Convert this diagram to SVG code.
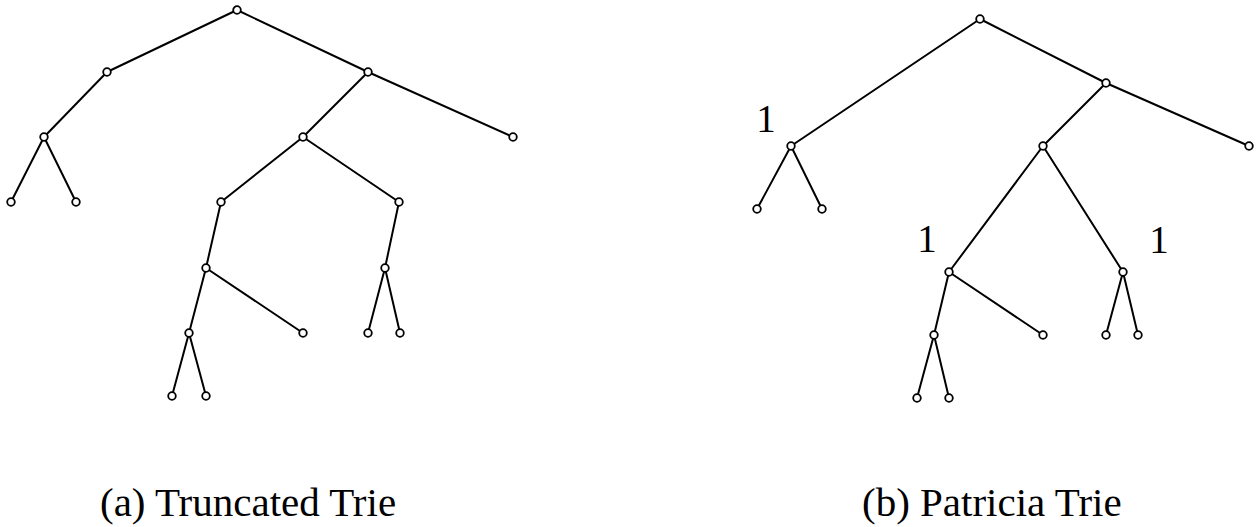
<svg xmlns="http://www.w3.org/2000/svg" width="1256" height="527" viewBox="0 0 1256 527">
<style>
.e{stroke:#000;stroke-width:2;fill:none;stroke-linecap:round}
.n{fill:#fff;stroke:#000;stroke-width:1.8}
.lbl{font-family:"Liberation Serif","Times New Roman","DejaVu Serif",serif;font-size:39px;fill:#000;text-anchor:middle}
.cap{font-family:"Liberation Serif","Times New Roman","DejaVu Serif",serif;font-size:41px;fill:#000}
</style>
<rect width="1256" height="527" fill="#fff"/>
<g id="connectors">
<path class="e" d="M237,10L107,72M237,10L368,72M107,72L44,137M44,137L11,202M44,137L76,202M368,72L303,137M368,72L513,137M303,137L221,202M303,137L399,202M221,202L206,268M206,268L189,333M206,268L303,333M189,333L172,396M189,333L206,396M399,202L385,268M385,268L368,333M385,268L400,333"/>
<path class="e" d="M980,19L791,146M980,19L1106,83M791,146L757,209M791,146L822,209M1106,83L1043,146M1106,83L1249,146M1043,146L949,272M1043,146L1123,272M949,272L934,335M949,272L1043,335M934,335L917,398M934,335L949,398M1123,272L1106,335M1123,272L1138,335"/>
</g>
<g id="a0"><circle class="n" cx="237" cy="10" r="3.8"/></g>
<g id="a1"><circle class="n" cx="107" cy="72" r="3.8"/></g>
<g id="a2"><circle class="n" cx="368" cy="72" r="3.8"/></g>
<g id="a3"><circle class="n" cx="44" cy="137" r="3.8"/></g>
<g id="a4"><circle class="n" cx="303" cy="137" r="3.8"/></g>
<g id="a5"><circle class="n" cx="513" cy="137" r="3.8"/></g>
<g id="a6"><circle class="n" cx="11" cy="202" r="3.8"/></g>
<g id="a7"><circle class="n" cx="76" cy="202" r="3.8"/></g>
<g id="a8"><circle class="n" cx="221" cy="202" r="3.8"/></g>
<g id="a9"><circle class="n" cx="399" cy="202" r="3.8"/></g>
<g id="a10"><circle class="n" cx="206" cy="268" r="3.8"/></g>
<g id="a11"><circle class="n" cx="385" cy="268" r="3.8"/></g>
<g id="a12"><circle class="n" cx="189" cy="333" r="3.8"/></g>
<g id="a13"><circle class="n" cx="303" cy="333" r="3.8"/></g>
<g id="a14"><circle class="n" cx="368" cy="333" r="3.8"/></g>
<g id="a15"><circle class="n" cx="400" cy="333" r="3.8"/></g>
<g id="a16"><circle class="n" cx="172" cy="396" r="3.8"/></g>
<g id="a17"><circle class="n" cx="206" cy="396" r="3.8"/></g>
<g id="b0"><circle class="n" cx="980" cy="19" r="3.8"/></g>
<g id="b1"><circle class="n" cx="791" cy="146" r="3.8"/><text class="lbl" x="766" y="132">1</text></g>
<g id="b2"><circle class="n" cx="1106" cy="83" r="3.8"/></g>
<g id="b3"><circle class="n" cx="757" cy="209" r="3.8"/></g>
<g id="b4"><circle class="n" cx="822" cy="209" r="3.8"/></g>
<g id="b5"><circle class="n" cx="1043" cy="146" r="3.8"/></g>
<g id="b6"><circle class="n" cx="1249" cy="146" r="3.8"/></g>
<g id="b7"><circle class="n" cx="949" cy="272" r="3.8"/><text class="lbl" x="927" y="252">1</text></g>
<g id="b8"><circle class="n" cx="1123" cy="272" r="3.8"/><text class="lbl" x="1159" y="253">1</text></g>
<g id="b9"><circle class="n" cx="934" cy="335" r="3.8"/></g>
<g id="b10"><circle class="n" cx="1043" cy="335" r="3.8"/></g>
<g id="b11"><circle class="n" cx="1106" cy="335" r="3.8"/></g>
<g id="b12"><circle class="n" cx="1138" cy="335" r="3.8"/></g>
<g id="b13"><circle class="n" cx="917" cy="398" r="3.8"/></g>
<g id="b14"><circle class="n" cx="949" cy="398" r="3.8"/></g>
<g id="caption-a"><text class="cap" x="100" y="516">(a) Truncated Trie</text></g>
<g id="caption-b"><text class="cap" x="862" y="516">(b) Patricia Trie</text></g>
</svg>
